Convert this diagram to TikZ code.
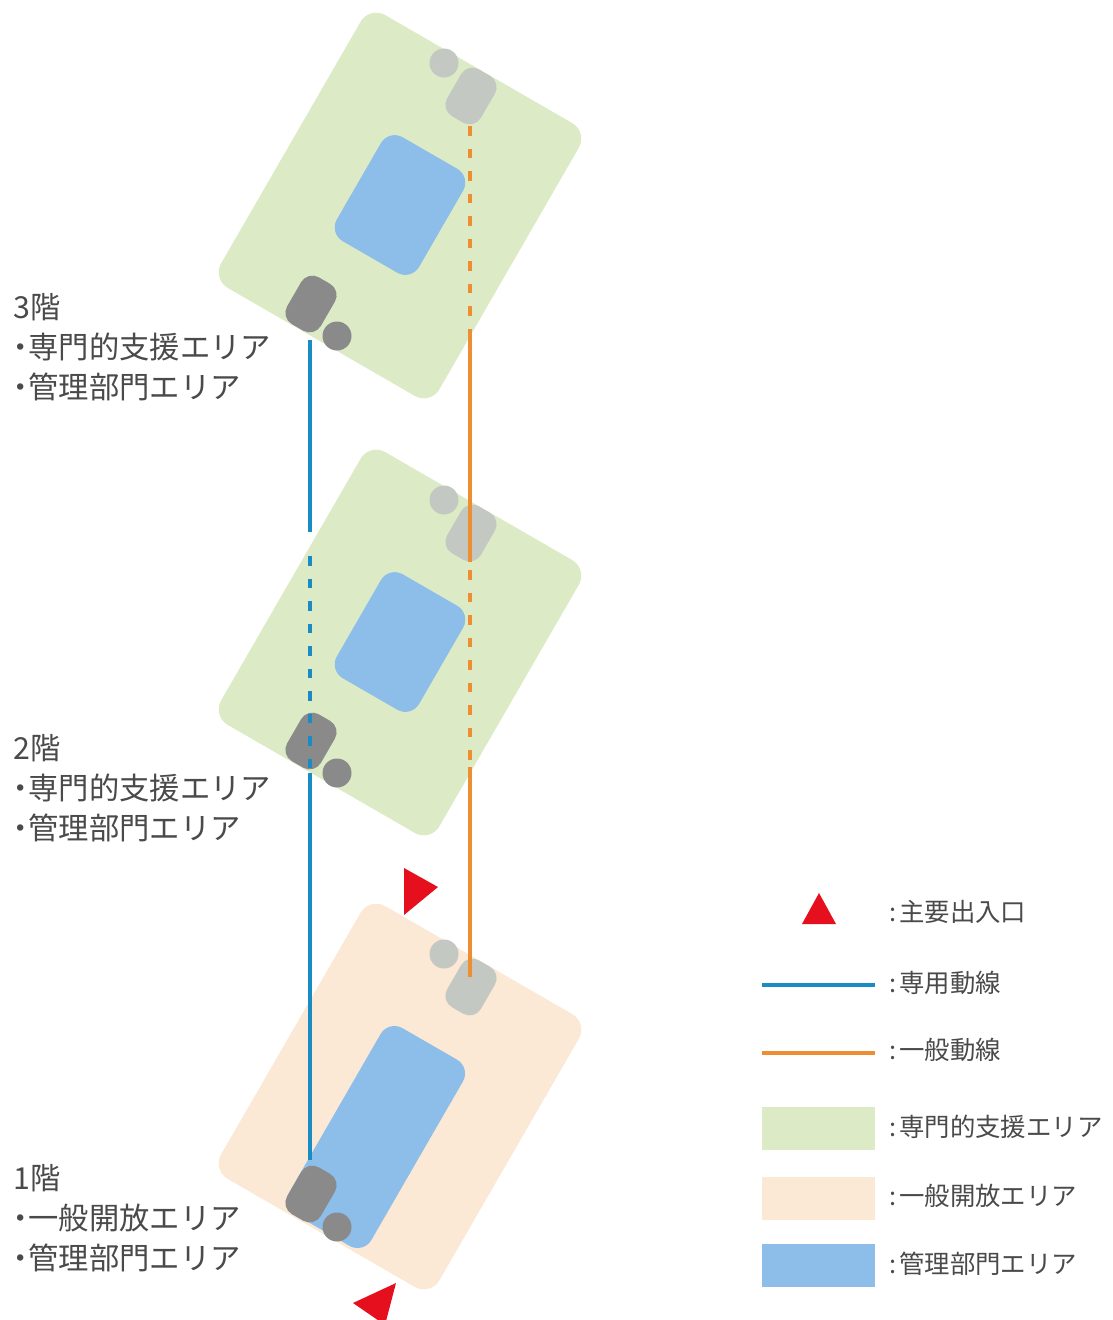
\documentclass[tikz,border=0pt]{standalone}
\usepackage{fontspec}
\setmainfont{Noto Sans CJK JP}
\definecolor{areagreen}{HTML}{DCEBC6}
\definecolor{areaorange}{HTML}{FBE8D5}
\definecolor{areablue}{HTML}{8DBDE9}
\definecolor{liftdark}{HTML}{8A8A8A}
\definecolor{liftpale}{HTML}{C3C8C3}
\definecolor{routeblue}{HTML}{1A8CC4}
\definecolor{routeorange}{HTML}{EE8E32}
\definecolor{gateRed}{HTML}{E60F1E}
\definecolor{inktext}{HTML}{4A4A4A}
\newcommand{\dotmark}{\hspace*{-8pt}・\hspace*{-7pt}}
\tikzset{
    box/.style={rectangle, rotate=-30, inner sep=0pt, minimum width=#1},
    floorbox/.style={box=252pt, minimum height=315pt, rounded corners=18pt},
    officebox/.style={box=95pt, rounded corners=16pt, fill=areablue},
    liftbox/.style={box=39pt, minimum height=54pt, rounded corners=13pt},
    liftdot/.style={circle, inner sep=0pt, minimum size=29pt},
    route/.style={line width=4pt},
    dashroute/.style={route, dash pattern=on 9.5pt off 13pt},
    floorlabel/.style={anchor=west, inner sep=0pt, font=\fontsize{30.3pt}{30pt}\selectfont, text=inktext},
    keylabel/.style={anchor=west, inner sep=0pt, font=\fontsize{25.4pt}{26pt}\selectfont, text=inktext},
    swatch/.style={rectangle, inner sep=0pt, minimum width=113pt, minimum height=43pt}
}
\begin{document}
\begin{tikzpicture}[x=1pt, y=-1pt]

    \useasboundingbox (0,0) rectangle (1113,1320);

    % upper floors
    \foreach \f/\dy in {3/0,2/437} {
        \node (floor\f) [floorbox, fill=areagreen] at (400,205.5+\dy) {};
        \node (office\f) [officebox, minimum height=120pt] at (400,205+\dy) {};
        \node (liftA\f) [liftbox, fill=liftdark] at (311,304+\dy) {};
        \node (dotA\f) [liftdot, fill=liftdark] at (337,336+\dy) {};
        \node (liftB\f) [liftbox, fill=liftpale] at (471,96+\dy) {};
        \node (dotB\f) [liftdot, fill=liftpale] at (444,63+\dy) {};
    }

    % ground floor
    \node (floor1) [floorbox, fill=areaorange] at (400,1096.5) {};
    \node (office1) [officebox, minimum height=215pt] at (376,1137) {};
    \node (liftA1) [liftbox, fill=liftdark] at (311,1194) {};
    \node (dotA1) [liftdot, fill=liftdark] at (337,1227) {};
    \node (liftB1) [liftbox, fill=liftpale] at (471,987) {};
    \node (dotB1) [liftdot, fill=liftpale] at (444,954) {};

    % routes
    \coordinate (b3) at (310,340);
    \coordinate (b2) at (310,532);
    \coordinate (b2a) at (310,556);
    \coordinate (b2b) at (310,768);
    \coordinate (b2c) at (310,773);
    \coordinate (b1) at (310,1160);
    \coordinate (o3) at (470,126);
    \coordinate (o3a) at (470,330);
    \coordinate (o2) at (470,562);
    \coordinate (o2a) at (470,570);
    \coordinate (o2b) at (470,767);
    \coordinate (o1) at (470,977);
    \draw [route, routeblue] (b3) -- (b2);
    \draw [dashroute, routeblue] (b2a) -- (b2b);
    \draw [route, routeblue] (b2c) -- (b1);
    \draw [dashroute, routeorange] (o3) -- (o3a);
    \draw [route, routeorange] (o3a) -- (o2);
    \draw [dashroute, routeorange] (o2a) -- (o2b);
    \draw [route, routeorange] (o2b) -- (o1);

    % entrances
    \fill [gateRed] (404,868) -- (438,887) -- (404,915) -- cycle;
    \fill [gateRed] (396,1283) -- (353,1303) -- (385,1325) -- cycle;

    % floor labels
    \foreach \y/\a/\b/\c in {
        307/3階/専門的支援エリア/管理部門エリア,
        748/2階/専門的支援エリア/管理部門エリア,
        1178/1階/一般開放エリア/管理部門エリア} {
        \node [floorlabel] at (13,\y) {\a};
        \node [floorlabel] at (13,\y+40) {\dotmark\b};
        \node [floorlabel] at (13,\y+80) {\dotmark\c};
    }

    % legend
    \fill [gateRed] (819,893) -- (836,924) -- (802,924) -- cycle;
    \coordinate (k1) at (762,985);
    \coordinate (k1e) at (875,985);
    \coordinate (k2) at (762,1053);
    \coordinate (k2e) at (875,1053);
    \draw [route, routeblue] (k1) -- (k1e);
    \draw [route, routeorange] (k2) -- (k2e);
    \node (k3) [swatch, fill=areagreen] at (818.5,1128.5) {};
    \node (k4) [swatch, fill=areaorange] at (818.5,1198.5) {};
    \node (k5) [swatch, fill=areablue] at (818.5,1265.5) {};
    \foreach \y/\t in {912/主要出入口,983/専用動線,1050/一般動線,1127/専門的支援エリア,1196/一般開放エリア,1264/管理部門エリア}
        \node [keylabel] at (889,\y) {:\hspace{3pt}\t};

\end{tikzpicture}
\end{document}
